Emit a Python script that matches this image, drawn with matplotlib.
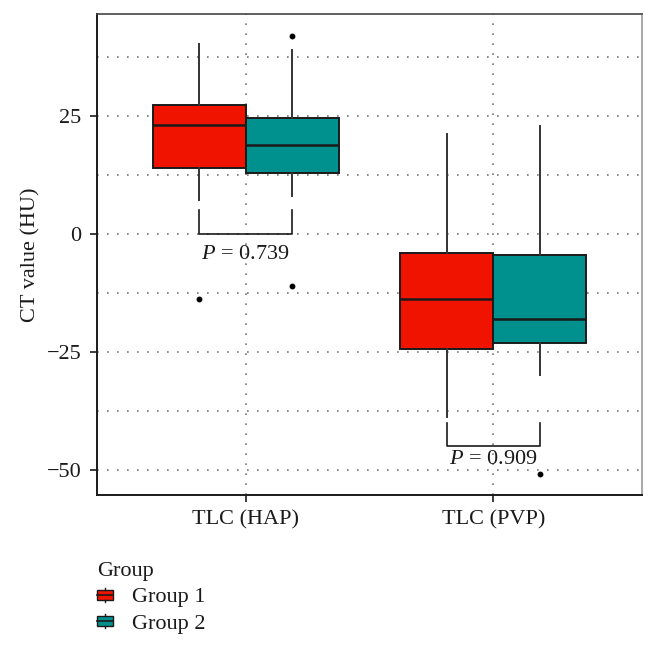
import matplotlib
matplotlib.use("Agg")
import matplotlib.pyplot as plt
from matplotlib.patches import Rectangle, Patch
from matplotlib.lines import Line2D
from matplotlib.legend_handler import HandlerBase
from matplotlib.ticker import MultipleLocator

plt.rcParams['font.family'] = ['Liberation Serif', 'DejaVu Serif']
plt.rcParams['mathtext.fontset'] = 'custom'
plt.rcParams['mathtext.rm'] = 'Liberation Serif'
plt.rcParams['mathtext.it'] = 'Liberation Serif:italic'

# ---- data ----
categories = ["TLC (HAP)", "TLC (PVP)"]
groups = ["Group 1", "Group 2"]
colors = ["#F01400", "#00918F"]

# per group, per category
q1 = {"Group 1": [14.0, -24.4], "Group 2": [12.9, -23.0]}
med = {"Group 1": [23.1, -13.8], "Group 2": [18.9, -18.0]}
q3 = {"Group 1": [27.3, -4.0], "Group 2": [24.6, -4.4]}
whislo = {"Group 1": [7.2, -38.8], "Group 2": [8.1, -29.9]}
whishi = {"Group 1": [40.3, 21.2], "Group 2": [39.0, 22.9]}
fliers = {"Group 1": [[-13.8], []], "Group 2": [[42.0, -11.0], [-50.9]]}

p_values = ["0.739", "0.909"]
bracket_top = [5.0, -40.0]
bracket_bottom = [0.0, -45.0]
p_text_y = [-4.3, -47.8]

yticks = [-50, -25, 0, 25]

# ---- figure ----
fig = plt.figure(figsize=(6.56, 6.45), dpi=100)
ax = fig.add_axes([97/656, 1-495/645, (642-97)/656, (495-14)/645])

dodge = 0.1875
width = 0.375
edge = "#1a1a1a"
txt = "#1a1a1a"
for gi, g in enumerate(groups):
    offset = -dodge if gi == 0 else dodge
    stats = []
    for ci in range(len(categories)):
        stats.append(dict(q1=q1[g][ci], med=med[g][ci], q3=q3[g][ci],
                          whislo=whislo[g][ci], whishi=whishi[g][ci],
                          fliers=fliers[g][ci]))
    pos = [ci + 1 + offset for ci in range(len(categories))]
    ax.bxp(stats, positions=pos, widths=width, patch_artist=True,
           showcaps=False, manage_ticks=False,
           boxprops=dict(facecolor=colors[gi], edgecolor=edge, linewidth=1.4),
           medianprops=dict(color=edge, linewidth=1.8),
           whiskerprops=dict(color="#333333", linewidth=1.4),
           flierprops=dict(marker='o', markerfacecolor='black', markeredgecolor='black',
                           markersize=3.2, linestyle='none'),
           zorder=3)

# brackets and p-values
for ci in range(len(categories)):
    xl = ci + 1 - dodge
    xr = ci + 1 + dodge
    ax.plot([xl, xl, xr, xr], [bracket_top[ci], bracket_bottom[ci], bracket_bottom[ci], bracket_top[ci]],
            color=edge, linewidth=1.2, zorder=4)
    ax.text(ci + 1, p_text_y[ci], r"$P$ = " + p_values[ci], ha='center', va='center',
            fontsize=16, color=txt, zorder=5)

ax.set_xlim(0.4, 2.6)
ax.set_ylim(-55.3, 46.6)
ax.set_xticks([1, 2])
ax.set_xticklabels(categories, fontsize=16, color=txt)
ax.set_yticks(yticks)
ax.set_yticklabels([("\u2212" + str(-t)) if t < 0 else str(t) for t in yticks], fontsize=16, color=txt)
ax.yaxis.set_minor_locator(MultipleLocator(12.5))
ax.tick_params(axis='both', which='major', direction='out', length=5, width=1.2, color=edge, pad=6)
ax.tick_params(axis='y', which='minor', length=0)
ax.grid(True, which='major', axis='both', linestyle=(0, (1, 5)), color='#777777', linewidth=1.2, zorder=0)
ax.grid(True, which='minor', axis='y', linestyle=(0, (1, 5)), color='#777777', linewidth=1.2, zorder=0)
ax.set_axisbelow(True)
for s in ['left', 'bottom']:
    ax.spines[s].set_color(edge)
    ax.spines[s].set_linewidth(1.4)
ax.spines['top'].set_color('#444444')
ax.spines['top'].set_linewidth(1.2)
ax.spines['right'].set_color('#999999')
ax.spines['right'].set_linewidth(1.2)
ax.set_ylabel("CT value (HU)", fontsize=16, color=txt, labelpad=5)


class HandlerBoxKey(HandlerBase):
    def create_artists(self, legend, orig_handle, xdescent, ydescent, width, height, fontsize, trans):
        fc = orig_handle.get_facecolor()
        x0, y0 = -xdescent, -ydescent
        cy = y0 + height / 2
        bh = 0.46 * fontsize
        sh = 0.64 * fontsize
        rect = Rectangle((x0, cy - bh / 2), width, bh, facecolor=fc, edgecolor=edge,
                         linewidth=1.0, transform=trans)
        mid = Line2D([x0, x0 + width], [cy, cy], color=edge, linewidth=1.2, transform=trans)
        w1 = Line2D([x0 + width / 2] * 2, [cy - sh / 2, cy - bh / 2], color=edge, linewidth=1.0, transform=trans)
        w2 = Line2D([x0 + width / 2] * 2, [cy + bh / 2, cy + sh / 2], color=edge, linewidth=1.0, transform=trans)
        return [rect, mid, w1, w2]


handles = [Patch(facecolor=c) for c in colors]
leg = fig.legend(handles, groups, loc='upper left', bbox_to_anchor=(88/656, 1-553/645),
                 frameon=False, fontsize=16, title="Group", title_fontsize=16,
                 handler_map={Patch: HandlerBoxKey()}, handlelength=0.72, handleheight=1.07,
                 handletextpad=0.85, labelspacing=0.15, alignment='left', borderaxespad=0)
for t in leg.get_texts():
    t.set_color(txt)
leg.get_title().set_color(txt)

fig.savefig("out.png", dpi=100)
